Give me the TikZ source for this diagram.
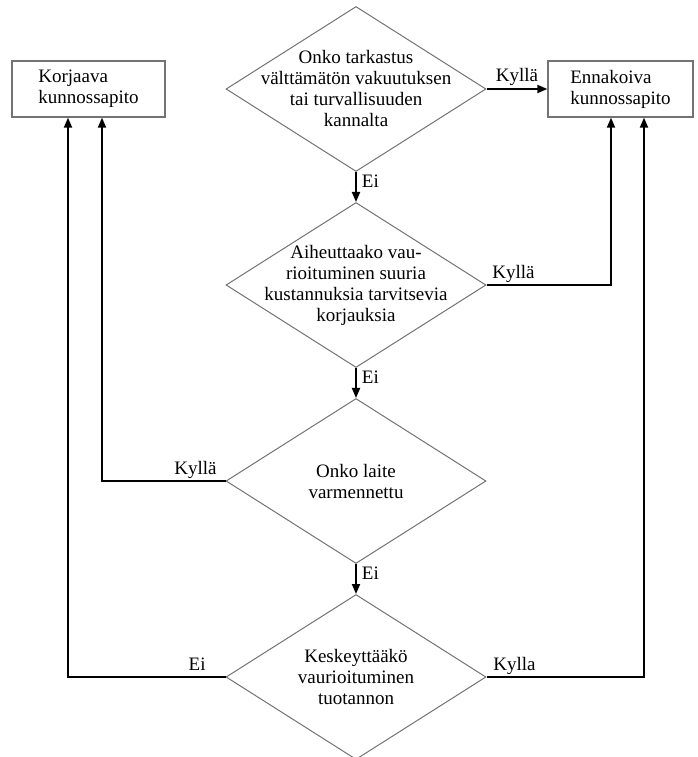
\documentclass[tikz,border=0pt]{standalone}
\usepackage{fontspec}
\setmainfont{Liberation Serif}
\usetikzlibrary{shapes.geometric, arrows.meta, positioning}

\begin{document}
\begin{tikzpicture}[
    x=1pt, y=-1pt,
    node distance=30pt,
    every node/.style={font=\fontsize{19}{21}\selectfont},
    decision/.style={diamond, draw=black!55, line width=1pt, minimum width=260pt, minimum height=165pt, inner sep=0pt},
    question/.style={align=center, inner sep=0pt},
    outcome/.style={draw=black!55, line width=1.3pt, minimum height=56pt, align=left, inner sep=2pt},
    arrow/.style={-{Triangle[length=10pt, width=8pt]}, line width=1.8pt},
    lbl/.style={inner sep=2pt}
]
    \useasboundingbox (0,0) rectangle (697,757);

    \node[outcome, minimum width=153pt] (korj) at (88.5,89) {Korjaava\\kunnossapito};
    \node[outcome, minimum width=145pt] (ennak) at (620.5,89) {Ennakoiva\\kunnossapito};

    \node[decision] (q1) at (356,89) {};
    \node[decision, below=of q1] (q2) {};
    \node[decision, below=of q2] (q3) {};
    \node[decision, below=of q3] (q4) {};

    \node[question] (t1) at (q1) {Onko tarkastus\\välttämätön vakuutuksen\\tai turvallisuuden\\kannalta};
    \node[question] (t2) at (q2) {Aiheuttaako vau-\\rioituminen suuria\\kustannuksia tarvitsevia\\korjauksia};
    \node[question] (t3) at (q3) {Onko laite\\varmennettu};
    \node[question] (t4) at (q4) {Keskeyttääkö\\vaurioituminen\\tuotannon};

    \draw[arrow] (q1.east) -- node[lbl, above] {Kyllä} (ennak.west);
    \draw[arrow] (q1) -- node[lbl, right, pos=0.3, xshift=3pt] {Ei} (q2);
    \draw[arrow] (q2) -- node[lbl, right, pos=0.3, xshift=3pt] {Ei} (q3);
    \draw[arrow] (q3) -- node[lbl, right, pos=0.3, xshift=3pt] {Ei} (q4);

    \draw[arrow] (q2.east) node[lbl, above right, xshift=3pt] {Kyllä} -| ([xshift=-9.5pt]ennak.south);
    \draw[arrow] (q3.west) node[lbl, above left, xshift=-6pt] {Kyllä} -| ([xshift=13.5pt]korj.south);
    \draw[arrow] (q4.west) node[lbl, above left, xshift=-17pt, yshift=4pt] {Ei} -| ([xshift=-20.5pt]korj.south);
    \draw[arrow] (q4.east) node[lbl, above right, xshift=4pt] {Kylla} -| ([xshift=23.5pt]ennak.south);
\end{tikzpicture}
\end{document}
